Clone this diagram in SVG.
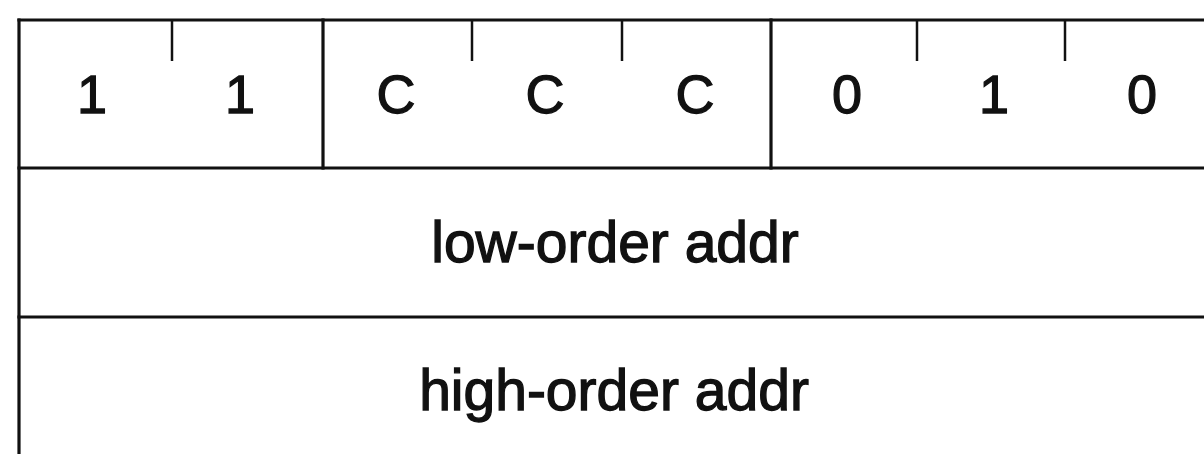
<svg xmlns="http://www.w3.org/2000/svg" width="1204" height="454" viewBox="0 0 1204 454">
<style>
.ln{stroke:#111;stroke-width:3.2;fill:none;stroke-linecap:square}
.tk{stroke:#111;stroke-width:2.5;fill:none}
.t{font-family:"Liberation Sans",Arial,sans-serif;font-size:54px;fill:#111;stroke:#111;stroke-width:1.3;text-anchor:middle}
.b{font-family:"Liberation Sans",Arial,sans-serif;font-size:57px;fill:#111;stroke:#111;stroke-width:1.3;text-anchor:middle}
</style>
<rect width="1204" height="454" fill="#fff"/>
<g id="frame">
<line class="ln" x1="19" y1="20" x2="1210" y2="20"/>
<line class="ln" x1="19" y1="20" x2="19" y2="460"/>
<line class="ln" x1="19" y1="168" x2="1210" y2="168"/>
<line class="ln" x1="19" y1="317" x2="1210" y2="317"/>
<line class="ln" x1="323" y1="20" x2="323" y2="168"/>
<line class="ln" x1="771" y1="20" x2="771" y2="168"/>
</g>
<g id="ticks">
<line class="tk" x1="172" y1="20" x2="172" y2="61"/>
<line class="tk" x1="472" y1="20" x2="472" y2="61"/>
<line class="tk" x1="622" y1="20" x2="622" y2="61"/>
<line class="tk" x1="917" y1="20" x2="917" y2="61"/>
<line class="tk" x1="1065" y1="20" x2="1065" y2="61"/>
</g>
<g id="bits">
<text class="t" x="92" y="113">1</text>
<text class="t" x="240" y="113">1</text>
<text class="t" x="396" y="113">C</text>
<text class="t" x="545" y="113">C</text>
<text class="t" x="695" y="113">C</text>
<text class="t" x="847" y="113">0</text>
<text class="t" x="994" y="113">1</text>
<text class="t" x="1142" y="113">0</text>
</g>
<g id="low">
<text class="b" x="615" y="262">low-order addr</text>
</g>
<g id="high">
<text class="b" x="614" y="410">high-order addr</text>
</g>
</svg>
